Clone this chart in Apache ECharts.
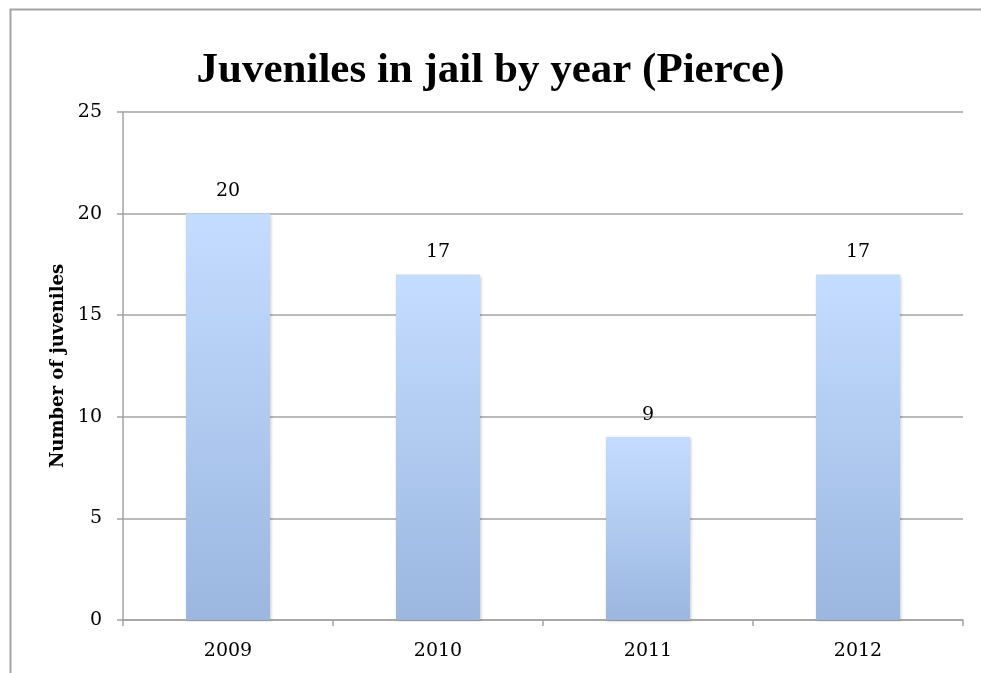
<!DOCTYPE html>
<html>
<head>
<meta charset="utf-8">
<script src="https://cdn.jsdelivr.net/npm/echarts@6/dist/echarts.min.js"></script>
<style>
  html, body { margin: 0; padding: 0; background: #ffffff; }
  #chart { width: 981px; height: 673px; }
</style>
</head>
<body>
<div id="chart"></div>
<script>
// Juveniles held in jail per year, Pierce County
const years = ['2009', '2010', '2011', '2012'];
const juveniles = [20, 17, 9, 17];
const yTicks = [0, 5, 10, 15, 20, 25];

const titleFont = '"Liberation Serif", "DejaVu Serif", serif';
const bodyFont = '"DejaVu Serif", "Liberation Serif", serif';
const lineGray = '#a3a3a3';

const chart = echarts.init(document.getElementById('chart'), null, { renderer: 'canvas' });

chart.setOption({
  backgroundColor: '#ffffff',
  animation: false,
  title: {
    text: 'Juveniles in jail by year (Pierce)',
    left: 'center',
    top: 44,
    textStyle: {
      fontFamily: titleFont,
      fontWeight: 'bold',
      fontSize: 43,
      color: '#000000'
    }
  },
  graphic: [{
    type: 'rect',
    left: 8,
    top: 7,
    shape: { x: 0, y: 0, width: 1000, height: 700 },
    style: { fill: 'none', stroke: lineGray, lineWidth: 2 },
    silent: true,
    z: -1
  }],
  grid: {
    left: 123,
    right: 18,
    top: 112,
    bottom: 53,
    containLabel: false
  },
  xAxis: {
    type: 'category',
    data: years,
    axisLine: { show: true, lineStyle: { color: lineGray, width: 1.5 } },
    axisTick: { show: true, length: 6, alignWithLabel: false, lineStyle: { color: lineGray, width: 1.5 } },
    axisLabel: {
      margin: 22,
      fontFamily: bodyFont,
      fontSize: 19,
      color: '#000000'
    },
    splitLine: { show: false }
  },
  yAxis: {
    type: 'value',
    min: yTicks[0],
    max: yTicks[yTicks.length - 1],
    interval: yTicks[1] - yTicks[0],
    name: 'Number of juveniles',
    nameLocation: 'middle',
    nameGap: 50,
    nameRotate: 90,
    nameTextStyle: {
      fontFamily: bodyFont,
      fontWeight: 'bold',
      fontSize: 18,
      color: '#000000'
    },
    axisLine: { show: true, lineStyle: { color: lineGray, width: 1.5 } },
    axisTick: { show: true, length: 6, lineStyle: { color: lineGray, width: 1.5 } },
    axisLabel: {
      margin: 21,
      fontFamily: bodyFont,
      fontSize: 19,
      color: '#000000'
    },
    splitLine: { show: true, lineStyle: { color: lineGray, width: 1.5 } }
  },
  series: [{
    type: 'bar',
    data: juveniles,
    barWidth: '40%',
    itemStyle: {
      color: new echarts.graphic.LinearGradient(0, 0, 0, 1, [
        { offset: 0, color: '#c4dcff' },
        { offset: 1, color: '#9bb7e0' }
      ]),
      shadowBlur: 3,
      shadowColor: 'rgba(0,0,0,0.22)',
      shadowOffsetX: 1,
      shadowOffsetY: 1
    },
    label: {
      show: true,
      position: 'top',
      distance: 13,
      fontFamily: bodyFont,
      fontSize: 19,
      color: '#000000'
    }
  }]
});
</script>
</body>
</html>
